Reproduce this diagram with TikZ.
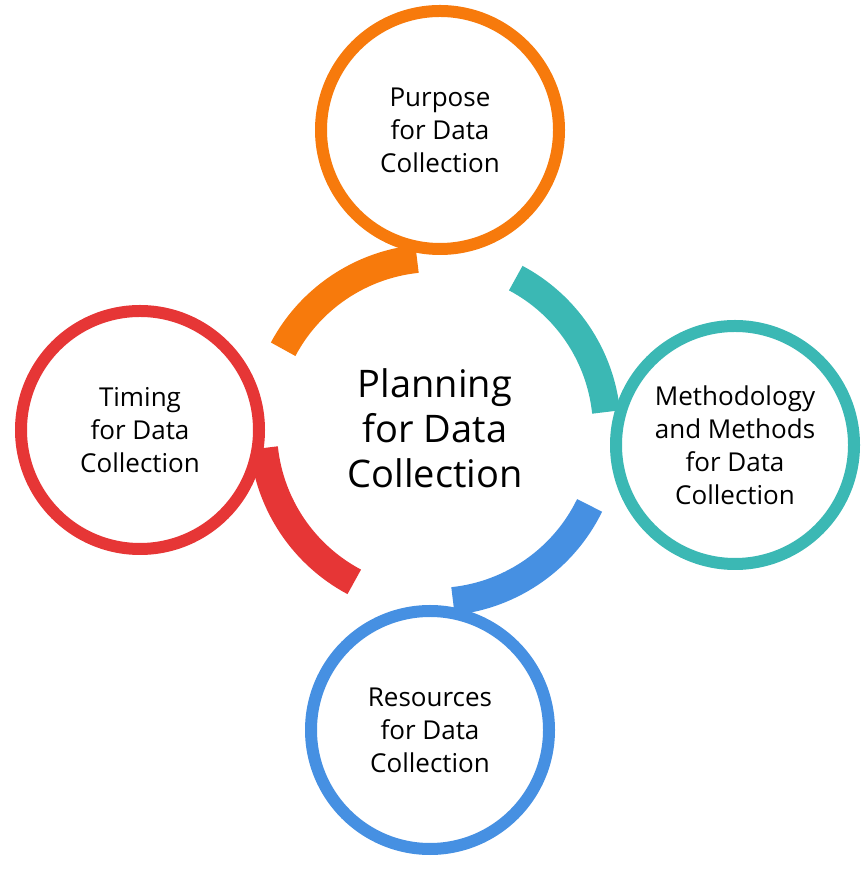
\documentclass[tikz,border=0pt]{standalone}
\usepackage{fontspec}
\setmainfont{Open Sans}
\definecolor{orng}{HTML}{F77A0C}
\definecolor{teal2}{HTML}{3BB8B4}
\definecolor{blu}{HTML}{4690E2}
\definecolor{redd}{HTML}{E63636}
\begin{document}
\begin{tikzpicture}[x=1pt,y=1pt,
  band/.style={line width=28pt},
  ring/.style={circle,line width=12pt,fill=white,minimum size=238pt,align=center,font=\fontsize{26}{33}\selectfont,inner sep=0pt}]
\useasboundingbox (0,0) rectangle (866,875);
\coordinate (c) at (435,445);
\draw[band,orng] (c) ++(152:172) arc[start angle=152,end angle=96,radius=172];
\draw[band,teal2] (c) ++(62:172) arc[start angle=62,end angle=6,radius=172];
\draw[band,blu] (c) ++(-26:172) arc[start angle=-26,end angle=-84,radius=172];
\draw[band,redd] (c) ++(-118:172) arc[start angle=-118,end angle=-174,radius=172];
\node[ring,draw=orng] (p) at (440,745) {Purpose\\for Data\\Collection};
\node[ring,draw=teal2] (m) at (735,430) {Methodology\\and Methods\\for Data\\Collection};
\node[ring,draw=blu] (r) at (430,145) {Resources\\for Data\\Collection};
\node[ring,draw=redd] (t) at (140,445) {Timing\\for Data\\Collection};
\node[align=center,font=\fontsize{38}{45}\selectfont] (ctr) at (435,447) {Planning\\for Data\\Collection};
\end{tikzpicture}
\end{document}
